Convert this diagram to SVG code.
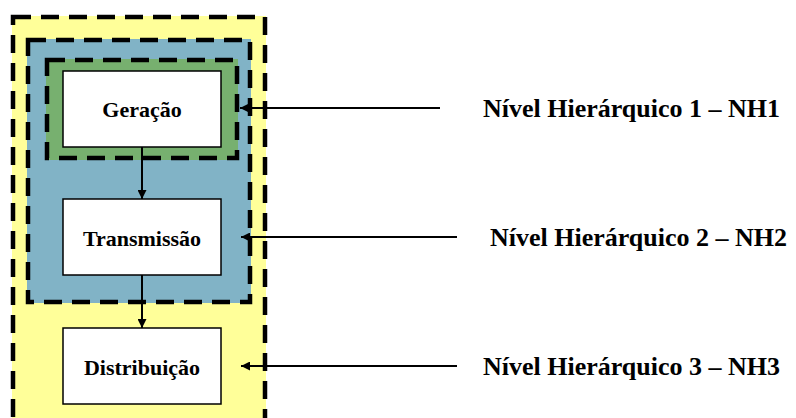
<svg xmlns="http://www.w3.org/2000/svg" width="796" height="418" viewBox="0 0 796 418">
<style>
.dash{stroke:#000;stroke-width:4.5;stroke-dasharray:18 10;fill:none}
.box{fill:#fff;stroke:#000;stroke-width:1.5}
.lbl{font-family:"Liberation Serif","Times New Roman",serif;font-weight:bold;font-size:22px;text-anchor:middle;fill:#000}
.nh{font-family:"Liberation Serif","Times New Roman",serif;font-weight:bold;font-size:26px;fill:#000}
.ln{stroke:#000;stroke-width:2;fill:none}
</style>
<defs>
<marker id="ah" viewBox="0 0 10 10" refX="10" refY="5" markerWidth="9" markerHeight="9" markerUnits="userSpaceOnUse" orient="auto">
<path d="M0,0 L10,5 L0,10 z" fill="#000"/>
</marker>
</defs>
<g id="nh3-region">
<rect x="12" y="16" width="254" height="410" fill="#ffff99"/>
<rect x="13" y="17" width="252" height="410" class="dash"/>
</g>
<g id="nh2-region">
<rect x="27" y="39" width="224" height="264" fill="#81b3c6"/>
<rect x="28" y="40" width="222" height="262" class="dash"/>
</g>
<g id="nh1-region">
<rect x="46" y="59" width="192" height="101" fill="#77b06f"/>
<rect x="47" y="60" width="190" height="98" class="dash"/>
</g>
<g id="geracao">
<rect x="63" y="71" width="158" height="76" class="box"/>
<text x="142" y="117" class="lbl">Geração</text>
</g>
<g id="transmissao">
<rect x="63" y="199" width="158" height="76" class="box"/>
<text x="142" y="246" class="lbl">Transmissão</text>
</g>
<g id="distribuicao">
<rect x="63" y="328" width="158" height="76" class="box"/>
<text x="142" y="375" class="lbl">Distribuição</text>
</g>
<g id="connectors">
<line x1="142" y1="147" x2="142" y2="199" class="ln" marker-end="url(#ah)"/>
<line x1="142" y1="275" x2="142" y2="328" class="ln" marker-end="url(#ah)"/>
<line x1="440" y1="108" x2="240" y2="108" class="ln" marker-end="url(#ah)"/>
<line x1="457" y1="237" x2="241" y2="237" class="ln" marker-end="url(#ah)"/>
<line x1="457" y1="366" x2="241" y2="366" class="ln" marker-end="url(#ah)"/>
</g>
<g id="labels">
<text x="483" y="117" class="nh">Nível Hierárquico 1 – NH1</text>
<text x="490" y="246" class="nh">Nível Hierárquico 2 – NH2</text>
<text x="483" y="375" class="nh">Nível Hierárquico 3 – NH3</text>
</g>
</svg>
